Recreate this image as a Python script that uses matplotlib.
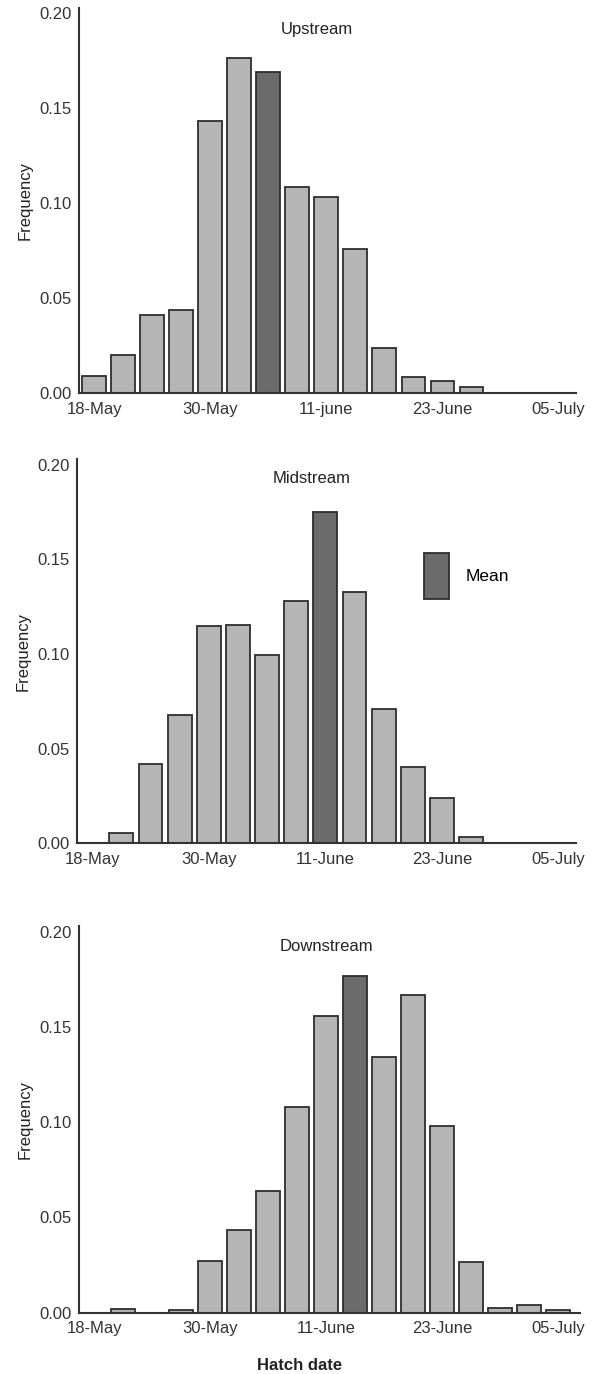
import numpy as np
import matplotlib
matplotlib.use("Agg")
import matplotlib.pyplot as plt
from matplotlib.patches import Patch

plt.rcParams['font.family'] = ['Liberation Sans', 'DejaVu Sans']

# 3-day bins starting 18-May (17 bins, index 0..16)
upstream = [0.009, 0.020, 0.041, 0.044, 0.1435, 0.1765, 0.169, 0.1085, 0.1035,
            0.076, 0.024, 0.0085, 0.0065, 0.0035, 0.0, 0.0, 0.0]
midstream = [0.0, 0.0056, 0.042, 0.068, 0.1146, 0.1155, 0.0996, 0.1278, 0.1749,
             0.1328, 0.071, 0.0405, 0.0238, 0.0035, 0.0, 0.0, 0.0]
downstream = [0.0, 0.002, 0.0, 0.0012, 0.027, 0.0434, 0.064, 0.108, 0.156,
              0.177, 0.134, 0.1668, 0.098, 0.0268, 0.0023, 0.004, 0.0015]
mean_bin = [6, 8, 9]
titles = ['Upstream', 'Midstream', 'Downstream']
tick_pos = [0, 4, 8, 12, 16]
tick_labels = [['18-May', '30-May', '11-june', '23-June', '05-July'],
               ['18-May', '30-May', '11-June', '23-June', '05-July'],
               ['18-May', '30-May', '11-June', '23-June', '05-July']]
yticks = [0.00, 0.05, 0.10, 0.15, 0.20]

light = '#b5b5b5'
dark = '#6b6b6b'
edge = '#2e2e2e'

W, H = 595, 1374
fig = plt.figure(figsize=(W / 100, H / 100), dpi=100)

# axes boxes in pixels: left, right, bottom, top
boxes = [(79, 576, 393.3, 7.6), (77, 576, 843.3, 459), (79, 580, 1312.7, 926)]
title_pos = [(0.479, 0.942), (0.471, 0.95), (0.493, 0.946)]

axes = []
for k, data in enumerate([upstream, midstream, downstream]):
    l, r, b, t = boxes[k]
    ax = fig.add_axes([l / W, 1 - b / H, (r - l) / W, (b - t) / H])
    axes.append(ax)
    x = np.arange(len(data))
    colors = [dark if i == mean_bin[k] else light for i in x]
    vals = np.array(data)
    keep = vals > 0
    ax.bar(x[keep], vals[keep], width=0.82, color=np.array(colors)[keep],
           edgecolor=edge, linewidth=1.3, zorder=2)
    ax.set_xlim(-0.52, 16.6 if k < 2 else 16.75)
    ax.set_ylim(0, 0.203)
    ax.set_yticks(yticks)
    ax.set_yticklabels(['%.2f' % v for v in yticks])
    ax.set_xticks(tick_pos)
    ax.set_xticklabels(tick_labels[k])
    ax.tick_params(axis='both', length=0, labelsize=12, colors='#333333')
    ax.tick_params(axis='y', pad=5)
    ax.tick_params(axis='x', pad=6)
    for s in ['top', 'right']:
        ax.spines[s].set_visible(False)
    for s in ['left', 'bottom']:
        ax.spines[s].set_linewidth(1.5)
        ax.spines[s].set_color('#333333')
    ax.set_ylabel('Frequency', fontsize=12, color='#222222', labelpad=5)
    ax.text(title_pos[k][0], title_pos[k][1], titles[k], transform=ax.transAxes,
            ha='center', va='center', fontsize=12, color='#222222')

axes[1].legend(handles=[Patch(facecolor=dark, edgecolor=edge, linewidth=1.3)],
               labels=['Mean'], loc='upper left', bbox_to_anchor=(0.695, 0.755),
               frameon=False, handlelength=1.44, handleheight=3.68,
               handletextpad=0.98, borderpad=0, borderaxespad=0, fontsize=12.5)

fig.text(300 / W, 1 - 1366 / H, 'Hatch date', ha='center', va='center',
         fontsize=12, fontweight='bold', color='#222222')

fig.savefig('out.png', dpi=100)
